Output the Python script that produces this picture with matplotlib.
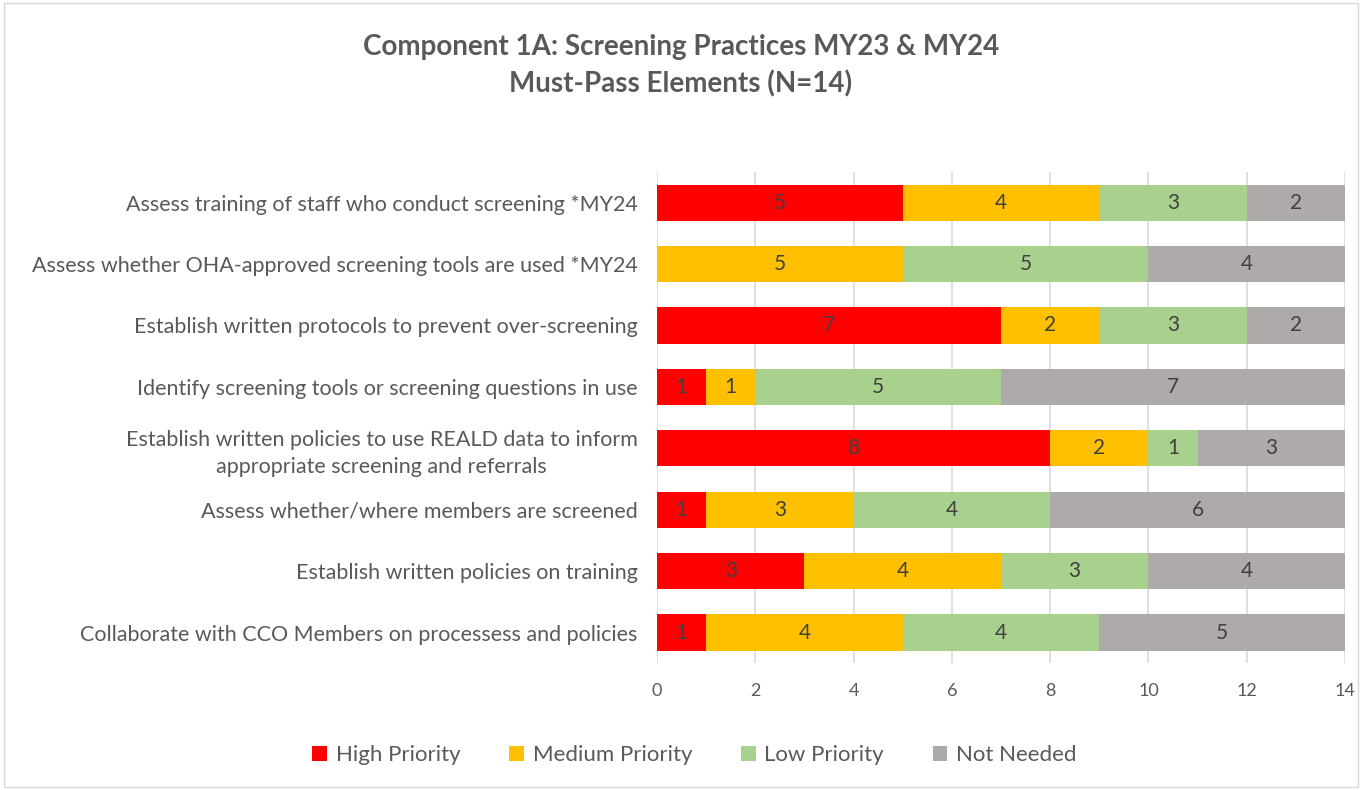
import matplotlib.pyplot as plt
import numpy as np

# data, top row first
categories = [
    'Assess training of staff who conduct screening *MY24',
    'Assess whether OHA-approved screening tools are used *MY24',
    'Establish written protocols to prevent over-screening',
    'Identify screening tools or screening questions in use',
    'Establish written policies to use REALD data to inform\nappropriate screening and referrals',
    'Assess whether/where members are screened',
    'Establish written policies on training',
    'Collaborate with CCO Members on processess and policies',
]
high = [5, 0, 7, 1, 8, 1, 3, 1]
medium = [4, 5, 2, 1, 2, 3, 4, 4]
low = [3, 5, 3, 5, 1, 4, 3, 4]
not_needed = [2, 4, 2, 7, 3, 6, 4, 5]

series_names = ['High Priority', 'Medium Priority', 'Low Priority', 'Not Needed']
series_colors = ['#FF0000', '#FFC000', '#A9D18E', '#AEAAAA']
x_ticks = [0, 2, 4, 6, 8, 10, 12, 14]

plt.rcParams['font.family'] = ['Lato', 'DejaVu Sans']

fig = plt.figure(figsize=(13.62, 7.90), dpi=100)
ax = fig.add_axes([0.4824, 0.1605, 0.5051, 0.6218])

y = np.arange(len(categories))
left = np.zeros(len(categories))
for name, vals, col in zip(series_names, [high, medium, low, not_needed], series_colors):
    vals = np.array(vals)
    bars = ax.barh(y, vals, left=left, height=0.59, color=col, label=name, zorder=2)
    for b, v in zip(bars, vals):
        if v > 0:
            ax.text(b.get_x() + b.get_width() / 2, b.get_y() + b.get_height() / 2, str(v),
                    ha='center', va='center', fontsize=15, color='#404040', zorder=3)
    left += vals

ax.set_xlim(0, 14)
ax.set_ylim(len(categories) - 0.5, -0.5)
ax.set_xticks(x_ticks)
ax.set_yticks(y)
ax.set_yticklabels(categories, fontsize=15.5, color='#595959', multialignment='center', linespacing=1.45)
ax.tick_params(axis='x', labelsize=13, colors='#595959', length=0, pad=14)
ax.tick_params(axis='y', length=0, pad=14)
ax.xaxis.grid(True, color='#D9D9D9', linewidth=1.2, zorder=0)
ax.set_axisbelow(True)
for s in ax.spines.values():
    s.set_visible(False)

fig.text(0.5, 0.917, 'Component 1A: Screening Practices MY23 & MY24\nMust-Pass Elements (N=14)',
         ha='center', va='center', fontsize=20, fontweight='bold', color='#595959', linespacing=1.45)

handles, labels = ax.get_legend_handles_labels()
fig.legend(handles, labels, loc='center', bbox_to_anchor=(0.51, 0.044), ncol=4, frameon=False,
           fontsize=16, handlelength=0.65, handleheight=0.65, handletextpad=0.4, columnspacing=2.2,
           labelcolor='#595959')

# thin border round the chart area
fig.patches.append(plt.Rectangle((0.003, 0.004), 0.994, 0.992, transform=fig.transFigure,
                                 fill=False, edgecolor='#D9D9D9', linewidth=1))

fig.savefig('out.png', dpi=100)
